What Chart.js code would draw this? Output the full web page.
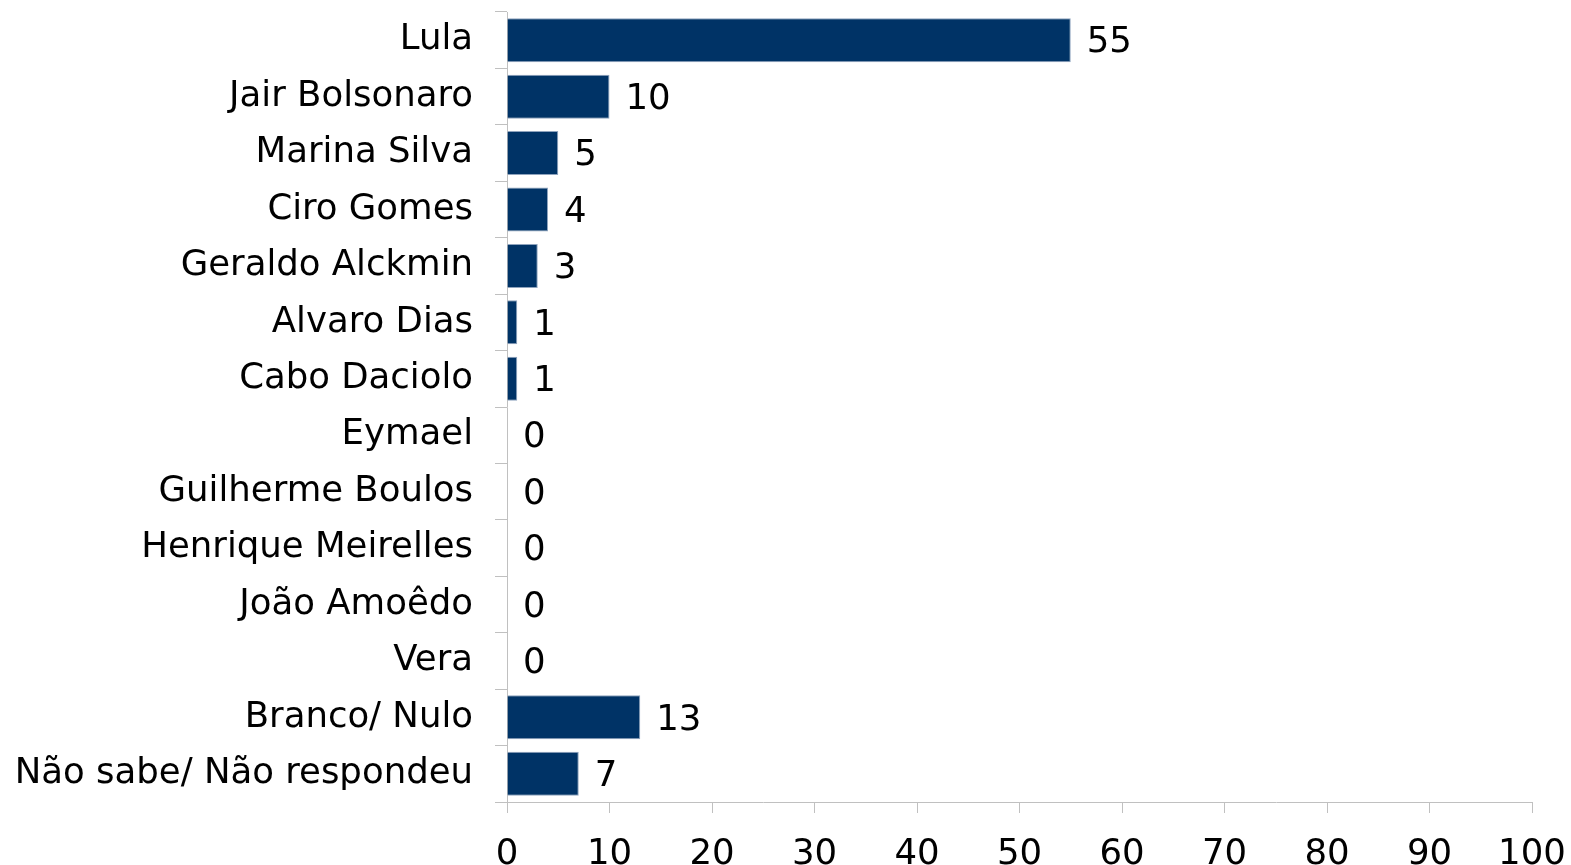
<!DOCTYPE html>
<html>
<head>
<meta charset="utf-8">
<script src="https://cdn.jsdelivr.net/npm/chart.js@4/dist/chart.umd.min.js"></script>
<style>
  html, body { margin: 0; padding: 0; background: #fff; }
  #wrap { width: 1571px; height: 865px; position: relative; }
</style>
</head>
<body>
<div id="wrap"><canvas id="votoChart"></canvas></div>
<script>
// intenção de voto (%)
const candidatos = [
    'Lula', 'Jair Bolsonaro', 'Marina Silva', 'Ciro Gomes', 'Geraldo Alckmin',
    'Alvaro Dias', 'Cabo Daciolo', 'Eymael', 'Guilherme Boulos',
    'Henrique Meirelles', 'João Amoêdo', 'Vera', 'Branco/ Nulo',
    'Não sabe/ Não respondeu'
];
const percentuais = [55, 10, 5, 4, 3, 1, 1, 0, 0, 0, 0, 0, 13, 7];
const ticksX = [0, 10, 20, 30, 40, 50, 60, 70, 80, 90, 100];

const fonte = 'DejaVu Sans, Verdana, sans-serif';
const tamanho = 35.5;

// rótulos de valor ao lado das barras
const rotulosValor = {
    id: 'rotulosValor',
    afterDatasetsDraw(chart) {
        const ctx = chart.ctx;
        const meta = chart.getDatasetMeta(0);
        ctx.save();
        ctx.font = tamanho + 'px ' + fonte;
        ctx.fillStyle = '#000';
        ctx.textAlign = 'left';
        ctx.textBaseline = 'middle';
        meta.data.forEach((bar, i) => {
            ctx.fillText(String(percentuais[i]), bar.x + 16, bar.y + 3);
        });
        ctx.restore();
    }
};

const ctx = document.getElementById('votoChart').getContext('2d');
new Chart(ctx, {
    type: 'bar',
    data: {
        labels: candidatos,
        datasets: [{
            data: percentuais,
            backgroundColor: '#003366',
            borderColor: '#8ea3bd',
            borderWidth: 1,
            barPercentage: 0.78,
            categoryPercentage: 1
        }]
    },
    options: {
        indexAxis: 'y',
        responsive: true,
        maintainAspectRatio: false,
        animation: false,
        layout: {padding: {top: 12, right: 39, bottom: 0, left: 0}},
        plugins: {
            legend: {display: false},
            tooltip: {enabled: false}
        },
        scales: {
            x: {
                min: 0,
                max: 100,
                afterBuildTicks: axis => { axis.ticks = ticksX.map(v => ({value: v})); },
                afterFit: axis => {
                    axis.height = 63;
                    axis.paddingLeft = 0;
                    axis.paddingRight = 0;
                },
                grid: {
                    drawOnChartArea: false,
                    drawTicks: true,
                    tickLength: 11,
                    color: '#c0c0c0'
                },
                border: {color: '#c0c0c0', width: 1},
                ticks: {
                    color: '#000',
                    font: {family: fonte, size: tamanho},
                    padding: 20,
                    maxRotation: 0
                }
            },
            y: {
                afterFit: axis => {
                    axis.width = 507;
                    axis.paddingTop = 0;
                    axis.paddingBottom = 0;
                },
                grid: {
                    offset: true,
                    drawOnChartArea: false,
                    tickLength: 12,
                    color: '#c0c0c0'
                },
                border: {color: '#c0c0c0', width: 1},
                ticks: {
                    color: '#000',
                    font: {family: fonte, size: tamanho},
                    padding: 22
                }
            }
        }
    },
    plugins: [rotulosValor]
});
</script>
</body>
</html>
